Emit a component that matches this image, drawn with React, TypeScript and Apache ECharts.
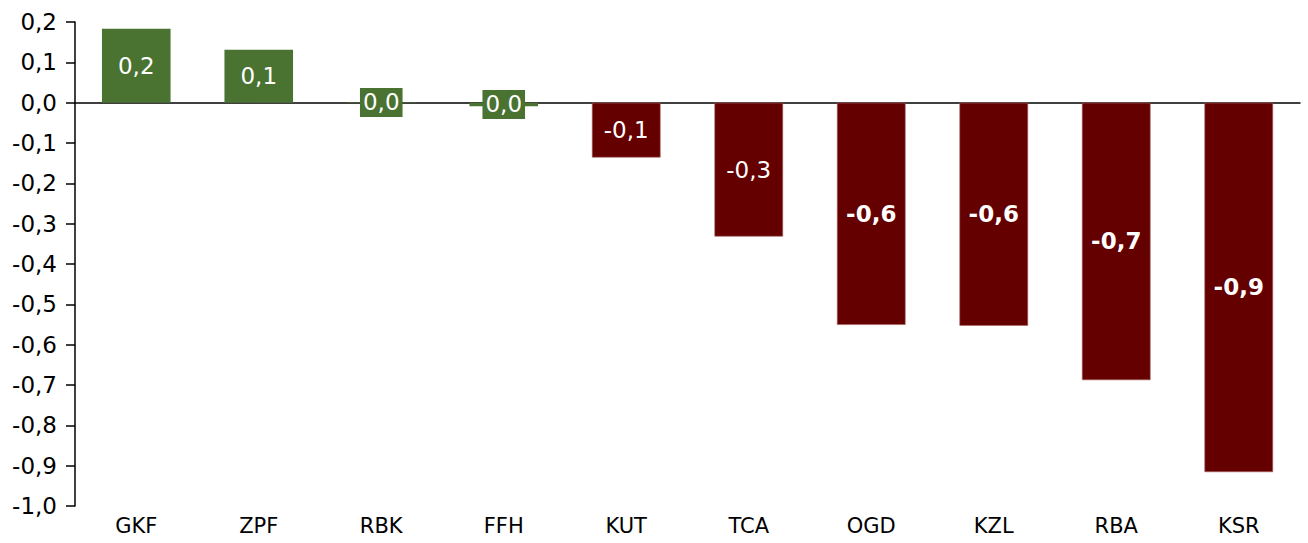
import React, { useEffect, useRef } from "react";
import * as echarts from "echarts";

const categories = ["GKF", "ZPF", "RBK", "FFH", "KUT", "TCA", "OGD", "KZL", "RBA", "KSR"];
const values = [0.183, 0.131, 0.001, -0.009, -0.136, -0.332, -0.551, -0.553, -0.688, -0.916];
const yMin = -1.0;
const yMax = 0.2;
const yStep = 0.1;

const GREEN = "#4a7230";
const RED = "#640000";
const FONT = "DejaVu Sans";

const fmt = (v: number) => {
  const r = Math.round(v * 10) / 10;
  const s = (Math.abs(r) < 1e-9 ? 0 : r).toFixed(1);
  return s.replace(".", ",");
};

export default function App() {
  const ref = useRef<HTMLDivElement>(null);
  useEffect(() => {
    if (!ref.current) return;
    const chart = echarts.init(ref.current, null, { renderer: "svg" });
    const data = values.map((v) => {
      const rounded = Math.round(v * 10) / 10;
      const color = rounded >= 0 || Math.abs(rounded) < 1e-9 ? GREEN : RED;
      const bold = Math.abs(v) >= 0.5;
      return {
        value: v,
        itemStyle: {
          color,
          borderColor: color === RED ? "#a86060" : color,
          borderWidth: color === RED ? 0.6 : 0,
        },
        label: {
          fontWeight: bold ? "bold" : "normal",
          backgroundColor: color,
          padding: [3, 3, 3, 3],
        },
      };
    });
    chart.setOption({
      animation: false,
      grid: { left: 75, right: 8, top: 22, bottom: 37 },
      xAxis: [
        {
          type: "category",
          data: categories,
          position: "bottom",
          axisLine: { show: false },
          axisTick: { show: false },
          axisLabel: { color: "#000", fontSize: 21, fontFamily: FONT, margin: 9 },
        },
        {
          type: "category",
          data: categories,
          position: "bottom",
          axisLine: { show: true, onZero: true, onZeroAxisIndex: 0, lineStyle: { color: "#000", width: 1.5 } },
          axisTick: { show: false },
          axisLabel: { show: false },
        },
      ],
      yAxis: {
        type: "value",
        min: yMin,
        max: yMax,
        interval: yStep,
        splitLine: { show: false },
        axisLine: { show: true, lineStyle: { color: "#000", width: 1.5 } },
        axisTick: { show: true, length: 9, lineStyle: { color: "#000", width: 1.5 } },
        axisLabel: {
          color: "#000",
          fontSize: 23,
          fontFamily: FONT,
          margin: 18,
          formatter: (v: number) => fmt(v),
        },
      },
      series: [
        {
          type: "bar",
          data,
          barCategoryGap: "44%",
          label: {
            show: true,
            position: "inside",
            color: "#ffffff",
            fontSize: 23,
            fontFamily: FONT,
            formatter: (p: any) => fmt(p.value),
          },
        },
      ],
    });
    return () => chart.dispose();
  }, []);
  return (
    <div
      ref={ref}
      style={{ position: "fixed", left: 0, top: 0, width: 1308, height: 543, background: "#fff" }}
    />
  );
}
